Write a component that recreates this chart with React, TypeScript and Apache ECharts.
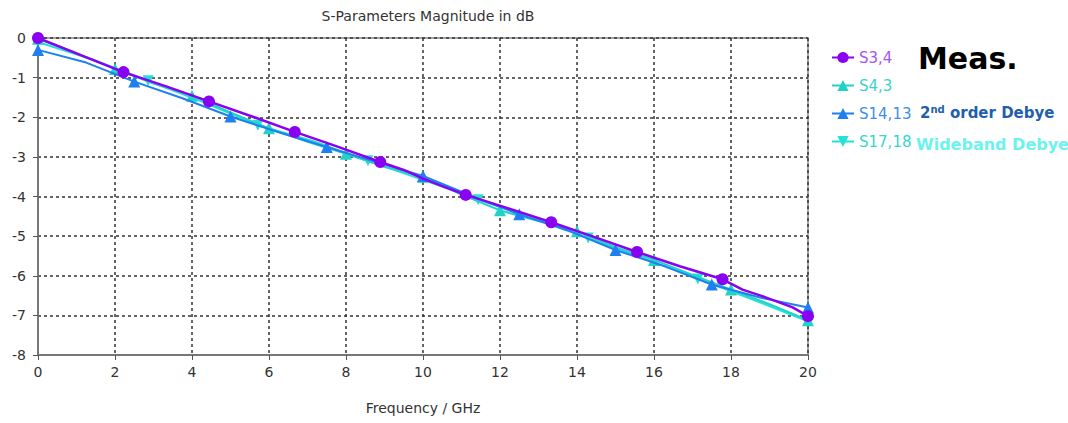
import React, { useEffect, useRef } from "react";
import * as echarts from "echarts";

// ---- Data ----
const s34Freq = [0, 1.11, 2.22, 3.33, 4.44, 5.56, 6.67, 7.78, 8.89, 9.5, 10.0, 10.5, 11.11, 12.22, 13.33, 14.44, 15.56, 16.67, 17.78, 18.3, 18.83, 19.6, 20];
const s34Val = [0, -0.43, -0.86, -1.22, -1.60, -1.98, -2.37, -2.74, -3.13, -3.33, -3.55, -3.74, -3.96, -4.30, -4.65, -5.02, -5.40, -5.76, -6.09, -6.35, -6.52, -6.80, -7.02];
const s34Marks = [0, 2.22, 4.44, 6.67, 8.89, 11.11, 13.33, 15.56, 17.78, 20];

const s43Freq = [0, 1, 2, 3, 4, 5, 6, 7, 8, 9, 10, 11, 12, 13, 14, 15, 16, 17, 18, 19, 20];
const s43Val = [-0.02, -0.38, -0.78, -1.15, -1.46, -1.88, -2.28, -2.62, -2.92, -3.25, -3.5, -3.95, -4.35, -4.62, -4.88, -5.28, -5.6, -5.98, -6.35, -6.72, -7.12];
const s43Marks = [0, 2, 4, 6, 8, 10, 12, 14, 16, 18, 20];

const s1413Freq = [0, 1.25, 2.5, 3.75, 5, 6.25, 7.5, 8.75, 10, 11.25, 12.5, 13.75, 15, 16.25, 17.5, 18.75, 20];
const s1413Val = [-0.3, -0.62, -1.1, -1.52, -1.98, -2.38, -2.75, -3.12, -3.48, -3.98, -4.45, -4.85, -5.35, -5.75, -6.22, -6.55, -6.8];
const s1413Marks = [0, 2.5, 5, 7.5, 10, 12.5, 15, 17.5, 20];

const s1718Freq = [0, 1.43, 2.86, 4.29, 5.71, 7.14, 8.57, 10, 11.43, 12.86, 14.29, 15.71, 17.14, 18.57, 20];
const s1718Val = [-0.1, -0.55, -1.08, -1.62, -2.2, -2.6, -3.1, -3.58, -4.08, -4.55, -5.05, -5.55, -6.08, -6.6, -7.15];
const s1718Marks = [0, 2.86, 5.71, 8.57, 11.43, 14.29, 17.14, 20];

const seriesNames = ["S3,4", "S4,3", "S14,13", "S17,18"];
const xTicks = { min: 0, max: 20, interval: 2 };
const yTicks = { min: -8, max: 0, interval: 1 };

const FONT = "DejaVu Sans";

function buildData(freq: number[], val: number[], marks: number[]) {
  return freq.map((f, i) => {
    const isMark = marks.some((m) => Math.abs(m - f) < 1e-6);
    return isMark ? { value: [f, val[i]] } : { value: [f, val[i]], symbol: "none" };
  });
}

export default function App() {
  const ref = useRef<HTMLDivElement>(null);
  useEffect(() => {
    if (!ref.current) return;
    const chart = echarts.init(ref.current, null, { renderer: "svg" });
    const downTri = "path://M0,0 L10,0 L5,9 Z";
    const option: any = {
      animation: false,
      backgroundColor: "#ffffff",
      title: {
        text: "S-Parameters Magnitude in dB",
        left: 423,
        top: 4,
        textAlign: "center",
        textStyle: { fontFamily: FONT, fontSize: 14, fontWeight: "normal", color: "#333" },
      },
      grid: {
        left: 38,
        right: 260,
        top: 38,
        bottom: 68,
        show: true,
        borderColor: "#888",
        borderWidth: 1.5,
      },
      legend: {
        orient: "vertical",
        left: 826,
        top: 45,
        itemGap: 13,
        itemWidth: 22,
        itemHeight: 14,
        data: [
          { name: "S3,4", textStyle: { color: "#a655f0" } },
          { name: "S4,3", textStyle: { color: "#3cd3c8" } },
          { name: "S14,13", textStyle: { color: "#3f8ee6" } },
          { name: "S17,18", textStyle: { color: "#38d6cc" } },
        ],
        textStyle: { fontFamily: FONT, fontSize: 15 },
      },
      xAxis: {
        type: "value",
        min: xTicks.min,
        max: xTicks.max,
        interval: xTicks.interval,
        name: "Frequency / GHz",
        nameLocation: "middle",
        nameGap: 46,
        nameTextStyle: { fontFamily: FONT, fontSize: 14, color: "#333" },
        axisLine: { show: true, onZero: false, lineStyle: { color: "#777", width: 2 } },
        axisTick: { show: true, length: 5, lineStyle: { color: "#555" } },
        axisLabel: { fontFamily: FONT, fontSize: 14, color: "#333", margin: 10 },
        splitLine: { show: true, lineStyle: { color: "#333", type: [3, 3], width: 1.5 } },
      },
      yAxis: {
        type: "value",
        min: yTicks.min,
        max: yTicks.max,
        interval: yTicks.interval,
        axisLine: { show: true, onZero: false, lineStyle: { color: "#777", width: 2 } },
        axisTick: { show: true, length: 5, lineStyle: { color: "#555" } },
        axisLabel: { fontFamily: FONT, fontSize: 14, color: "#333", margin: 12 },
        splitLine: { show: true, lineStyle: { color: "#333", type: [3, 3], width: 1.5 } },
      },
      series: [
        {
          name: seriesNames[0],
          type: "line",
          z: 5,
          data: buildData(s34Freq, s34Val, s34Marks),
          symbol: "circle",
          symbolSize: 12,
          showAllSymbol: true,
          color: "#8a00f0",
          lineStyle: { width: 2.5, color: "#8a00f0" },
        },
        {
          name: seriesNames[1],
          type: "line",
          z: 3,
          data: buildData(s43Freq, s43Val, s43Marks),
          symbol: "triangle",
          symbolSize: 12,
          showAllSymbol: true,
          color: "#20d2c8",
          lineStyle: { width: 2, color: "#20d2c8" },
        },
        {
          name: seriesNames[2],
          type: "line",
          z: 4,
          data: buildData(s1413Freq, s1413Val, s1413Marks),
          symbol: "triangle",
          symbolSize: 12,
          showAllSymbol: true,
          color: "#1e7ff0",
          lineStyle: { width: 2, color: "#1e7ff0" },
        },
        {
          name: seriesNames[3],
          type: "line",
          z: 2,
          data: buildData(s1718Freq, s1718Val, s1718Marks),
          symbol: downTri,
          symbolSize: 11,
          showAllSymbol: true,
          color: "#22e2d6",
          lineStyle: { width: 2, color: "#22e2d6" },
        },
      ],
      graphic: [
        {
          type: "text",
          left: 918,
          top: 43,
          style: { text: "Meas.", fontFamily: FONT, fontSize: 30, fontWeight: "bold", fill: "#000" },
        },
        {
          type: "text",
          left: 920,
          top: 104,
          style: {
            text: "{n|2}{s|nd}{n| order Debye}",
            rich: {
              n: { fontFamily: FONT, fontSize: 15, fontWeight: "bold", fill: "#1f5fae", color: "#1f5fae" },
              s: { fontFamily: FONT, fontSize: 10, fontWeight: "bold", fill: "#1f5fae", color: "#1f5fae", verticalAlign: "top", padding: [0, 0, 8, 0] },
            },
          },
        },
        {
          type: "text",
          left: 916,
          top: 136,
          style: { text: "Wideband Debye", fontFamily: FONT, fontSize: 16, fontWeight: "bold", fill: "#6cf2f0" },
        },
      ],
    };
    chart.setOption(option);
    return () => chart.dispose();
  }, []);
  return <div ref={ref} style={{ position: "fixed", left: 0, top: 0, width: 1068, height: 423 }} />;
}
